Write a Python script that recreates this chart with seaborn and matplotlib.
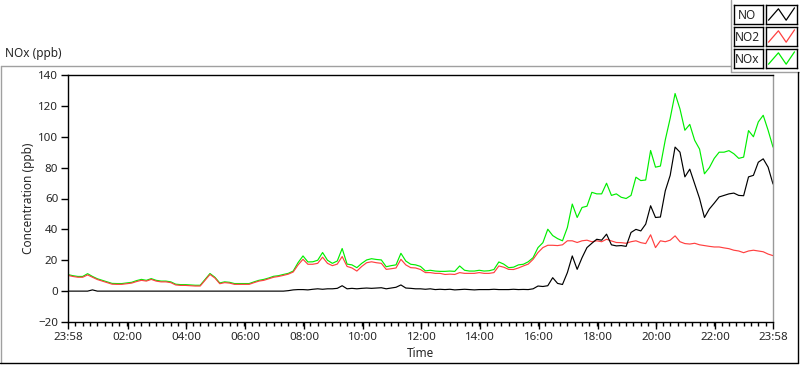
import numpy as np
import pandas as pd
import matplotlib
matplotlib.use("Agg")
import matplotlib.pyplot as plt
from matplotlib.lines import Line2D
import seaborn as sns

# minutes after 23:58, one reading every 10 minutes (0 .. 1440)
minutes = list(range(0, 1441, 10))

no = [0, 0, 0, 0, 0, 0.8, 0, 0, 0, 0,
      0, 0, 0, 0, 0, 0, 0, 0, 0, 0,
      0, 0, 0, 0, 0, 0, 0, 0, 0, 0,
      0, 0, 0, 0, 0, 0, 0, 0, 0, 0,
      0, 0, 0, 0, 0, 0.3, 0.8, 1, 1, 0.8,
      1.2, 1.5, 1.2, 1.5, 1.5, 1.8, 3.5, 1.5, 1.8, 1.5,
      1.8, 2, 1.8, 2, 2.2, 1.5, 2, 2.5, 4, 2,
      1.8, 1.5, 1.5, 1.2, 1.5, 1, 1.2, 1, 1.2, 0.8,
      1, 1.2, 1, 0.8, 1, 1, 1, 1.2, 1, 1,
      1, 1.2, 1, 1.1, 1, 1.5, 3.3, 3, 3.5, 8.7,
      5, 4.3, 12, 22.8, 14.1, 21.7, 28.2, 31, 33.6, 33,
      36.9, 30, 29.3, 29.5, 29, 38, 40, 39, 43.4, 55.3,
      47.7, 48, 65, 75, 93.3, 90, 74, 79, 69.4, 60,
      47.7, 53.2, 57, 61, 62, 63, 63.5, 62, 61.8, 74,
      75, 83.5, 85.7, 80.3, 69.4]

no2 = [10.2, 9.5, 9, 9, 10.5, 9, 7.5, 6.5, 5.5, 4.5,
       4.4, 4.4, 4.8, 5.2, 6.2, 7, 6.5, 7.6, 6.5, 6,
       6, 5.5, 4, 3.7, 3.7, 3.5, 3.3, 3.3, 7, 10.8,
       8.5, 4.8, 5.5, 5.2, 4.4, 4.4, 4.4, 4.4, 5.5, 6.5,
       7, 8, 9, 9.5, 10.2, 11, 12.4, 17, 20.6, 17.4,
       17.4, 18, 22, 18, 16.5, 17.5, 22.4, 16, 15, 13,
       16, 18.4, 19, 18.4, 18, 14.1, 14.5, 15, 20.6, 17,
       15.2, 15, 14, 12, 12, 11.5, 11.5, 10.8, 11, 10.8,
       12, 11.5, 11.5, 11.5, 12, 11.5, 11.5, 12, 16.3, 15.5,
       14.1, 14, 15, 16.3, 17.5, 20.6, 25, 28.2, 29.7, 29.7,
       29.5, 30, 32.6, 32.6, 31.5, 32.6, 33, 32, 32.6, 32,
       33.6, 32.5, 31.5, 31.4, 31, 32, 32.6, 31.4, 30.8, 36.5,
       28.2, 32.6, 32, 33, 35.8, 32, 30.8, 30.5, 31, 30,
       29.5, 29, 28.6, 28.6, 28, 27.5, 26.5, 26, 24.9, 26,
       26.5, 26, 25.5, 24, 23]

nox = [10.7, 10, 9.5, 9.5, 11.3, 9.5, 8, 7, 6, 5,
       4.9, 4.9, 5.3, 5.7, 6.8, 7.6, 7, 8.1, 7, 6.5,
       6.5, 6, 4.5, 4.2, 4.2, 4, 3.8, 3.8, 7.6, 11.4,
       9, 5.3, 6, 5.7, 4.9, 4.9, 4.9, 4.9, 6, 7,
       7.6, 8.5, 9.6, 10, 10.8, 11.5, 13, 18.5, 22.8, 18.9,
       19, 20, 25, 20, 18, 19.5, 27.6, 17.5, 17, 15.2,
       18, 20.2, 21, 20.5, 20.2, 15.8, 16.5, 17, 24.5, 19.5,
       17.4, 17, 16, 13.1, 13.5, 13, 12.8, 12.8, 13, 12.8,
       16.3, 13.5, 13, 13, 13.5, 13, 13.2, 14, 18.9, 17.5,
       15.2, 15.5, 17, 17.4, 19, 21.7, 28.2, 31.4, 40.1, 36,
       34, 32.6, 41.2, 56.4, 47.7, 54.2, 55, 64, 63, 63,
       69.9, 62, 63, 60.8, 60, 62, 73.8, 71.6, 72, 91.1,
       80.3, 81, 98, 112, 128, 118, 104.2, 108, 97.7, 92,
       76, 80, 86, 90, 90, 91, 89, 86, 86.8, 104,
       100, 109.6, 113.9, 104.2, 93.3]

series_names = ["NO", "NO2", "NOx"]
series_colors = ["#000000", "#ff4040", "#00ee00"]

# tick labels: 23:58 at both ends, then even hours
tick_minutes = [0] + [122 + 120 * k for k in range(11)] + [1440]
tick_labels = ["23:58", "02:00", "04:00", "06:00", "08:00", "10:00", "12:00",
               "14:00", "16:00", "18:00", "20:00", "22:00", "23:58"]
y_ticks = list(range(-20, 141, 20))

df = pd.DataFrame({"minute": minutes, "NO": no, "NO2": no2, "NOx": nox})

sns.set_style("white")
plt.rcParams["font.family"] = ["Noto Sans", "DejaVu Sans"]

fig = plt.figure(figsize=(8, 3.65), dpi=100)
ax = fig.add_axes([68 / 800, 1 - 322 / 365, 705 / 800, 247 / 365])

# green drawn first so red sits on top where they coincide
sns.lineplot(data=df, x="minute", y="NOx", color=series_colors[2], lw=0.85, ax=ax, estimator=None)
sns.lineplot(data=df, x="minute", y="NO2", color=series_colors[1], lw=0.85, ax=ax, estimator=None)
sns.lineplot(data=df, x="minute", y="NO", color=series_colors[0], lw=0.85, ax=ax, estimator=None)

ax.set_xlim(0, 1440)
ax.set_ylim(-20, 140)
ax.set_xticks(tick_minutes)
ax.set_xticklabels(tick_labels)
ax.set_xticks(np.arange(0, 1441, 15), minor=True)
ax.set_yticks(y_ticks)
ax.tick_params(axis="both", which="major", direction="out", length=5, width=1,
               labelsize=8.3, color="black", pad=2, bottom=True, left=True)
ax.tick_params(axis="x", which="minor", direction="out", length=3, width=1,
               color="black", bottom=True)
for side in ["left", "bottom", "top"]:
    ax.spines[side].set_color("black")
    ax.spines[side].set_linewidth(1)
ax.spines["right"].set_color("#999999")
ax.spines["right"].set_linewidth(1)
ax.set_xlabel("Time", fontsize=8.5, labelpad=3)
ax.set_ylabel("Concentration (ppb)", fontsize=8.5, labelpad=2)

fig.text(5 / 800, 1 - 53 / 365, "NOx (ppb)", fontsize=8.5, va="center", ha="left")

# panel frame lines (LabVIEW style)
def px_line(xs, ys, color):
    fig.add_artist(Line2D([x / 800 for x in xs], [1 - y / 365 for y in ys],
                          color=color, lw=1, transform=fig.transFigure))

px_line([0.5, 731], [66, 66], "#a0a0a0")
px_line([731, 731], [0, 72], "#a0a0a0")
px_line([731, 799], [72, 72], "#a0a0a0")
px_line([0.5, 0.5], [66, 363], "#a0a0a0")
px_line([0, 798], [363, 363], "#000000")
px_line([798, 798], [72, 363], "#000000")

# legend: name box + swatch box per series
for i, (name, col) in enumerate(zip(series_names, series_colors)):
    top = 5 + i * 22
    lab = fig.add_axes([734 / 800, 1 - (top + 19) / 365, 29 / 800, 19 / 365])
    lab.set_xticks([])
    lab.set_yticks([])
    for s in lab.spines.values():
        s.set_color("black")
        s.set_linewidth(1)
    lab.text(0.45, 0.45, name, ha="center", va="center", fontsize=8.5, transform=lab.transAxes)
    sw = fig.add_axes([766 / 800, 1 - (top + 19) / 365, 31 / 800, 19 / 365])
    sw.set_xticks([])
    sw.set_yticks([])
    for s in sw.spines.values():
        s.set_color("black")
        s.set_linewidth(1)
    sw.plot([0.08, 0.4, 0.65, 0.92], [0.2, 0.8, 0.2, 0.85], color=col, lw=0.9)
    sw.set_xlim(0, 1)
    sw.set_ylim(0, 1)

fig.savefig("out.png", dpi=100)
